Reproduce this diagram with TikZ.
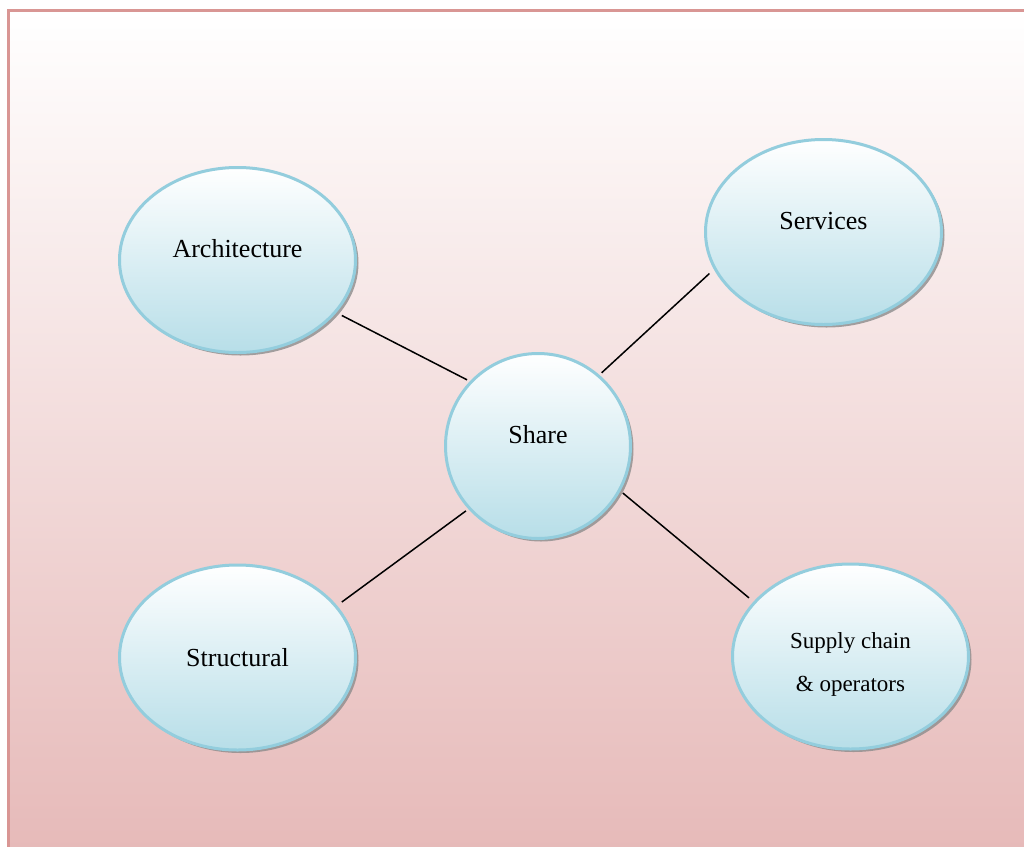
\documentclass[tikz,border=0pt]{standalone}
\usepackage{fontspec}
\setmainfont{Liberation Serif}
\usetikzlibrary{shapes.geometric, shadows}
\definecolor{cbgtop}{HTML}{FFFFFF}
\definecolor{cbgbot}{HTML}{E6B9B8}
\definecolor{cframe}{HTML}{D99694}
\definecolor{cfilltop}{HTML}{FFFFFF}
\definecolor{cfillbot}{HTML}{B7DEE8}
\definecolor{cedge}{HTML}{93CDDD}

\begin{document}
\begin{tikzpicture}[
  x=0.5pt, y=-0.5pt,
  font=\fontsize{13}{15}\selectfont,
  bubble/.style={ellipse, draw=cedge, line width=1.5pt, inner sep=0pt,
                 minimum width=118pt, minimum height=92.5pt,
                 top color=cfilltop, bottom color=cfillbot,
                 drop shadow={shadow xshift=1.5pt, shadow yshift=-1.5pt, fill=black!45, opacity=.8}},
  hub/.style={bubble, minimum width=92.5pt, minimum height=92.5pt},
  txt/.style={label={[yshift=#1]center:}},
  link/.style={line width=0.75pt, draw=black},
  ]
\useasboundingbox (0,0) rectangle (1024,847);
% background panel
\shade[top color=cbgtop, bottom color=cbgbot] (8.5,10.5) rectangle (1040,860);
\draw[cframe, line width=1.5pt] (8.5,10.5) rectangle (1040,860);

\node[hub] (share) at (538,446) {};
\node[bubble] (arch) at (237.5,260) {};
\node[bubble] (serv) at (823.5,232) {};
\node[bubble] (struct) at (237.5,657.5) {};
\node[bubble] (supply) at (850.5,656.5) {};

\node at ([yshift=5.5pt]share.center) {Share};
\node at ([yshift=5.5pt]arch.center) {Architecture};
\node at ([yshift=5.5pt]serv.center) {Services};
\node at (struct.center) {Structural};
\node[align=center, font=\fontsize{11.5}{21.5}\selectfont] at ([yshift=-4pt]supply.center) {Supply chain\\\& operators};

\draw[link] ([shift={(-28:3pt)}]arch.-28) -- ([shift={(137:1.5pt)}]share.137);
\draw[link] ([shift={(200:3pt)}]serv.200) -- ([shift={(49:1.5pt)}]share.49);
\draw[link] ([shift={(222:1.5pt)}]share.222) -- ([shift={(28:3pt)}]struct.28);
\draw[link] ([shift={(-29:1.5pt)}]share.-29) -- ([shift={(150:3pt)}]supply.150);
\end{tikzpicture}
\end{document}
